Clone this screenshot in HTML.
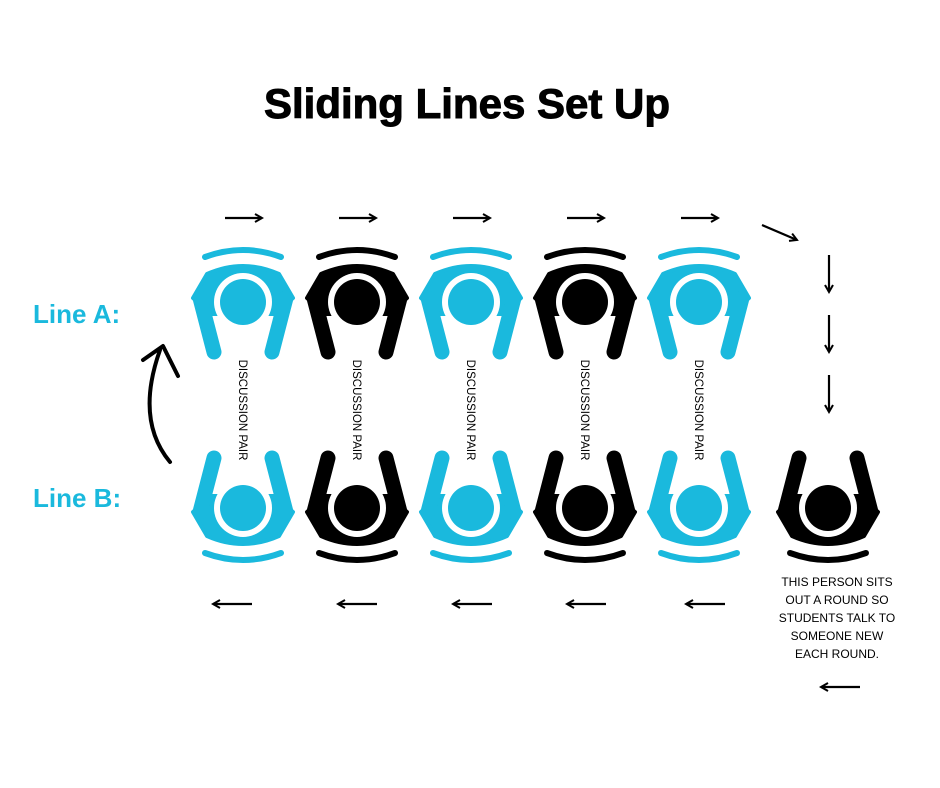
<!DOCTYPE html>
<html><head><meta charset="utf-8"><style>
body{margin:0;background:#fff;}
svg{display:block}
</style></head><body>
<svg width="940" height="788" viewBox="0 0 940 788" xmlns="http://www.w3.org/2000/svg">
<defs>
<g id="p">
  <path d="M-38,-45 Q0,-59 38,-45" fill="none" stroke="currentColor" stroke-width="6" stroke-linecap="round"/>
  <path d="M-50,-4 L-36,-28 Q0,-44 36,-28 L50,-4 L32,12 L-32,12 Z" fill="currentColor" stroke="currentColor" stroke-width="4" stroke-linejoin="round"/>
  <path d="M-29,50 L-43,-4 M29,50 L43,-4" fill="none" stroke="currentColor" stroke-width="15" stroke-linecap="round" stroke-linejoin="round"/>
  <circle cx="0" cy="0" r="29" fill="#fff"/>
  <circle cx="0" cy="0" r="23" fill="currentColor"/>
</g>
<marker id="ah" markerWidth="10" markerHeight="10" refX="8" refY="5" orient="auto" markerUnits="userSpaceOnUse">
  <path d="M1,1 L8,5 L1,9" fill="none" stroke="#000" stroke-width="2"/>
</marker>
</defs>
<text x="467" y="118" text-anchor="middle" font-family="Liberation Sans, sans-serif" font-weight="bold" font-size="42" fill="#000" stroke="#000" stroke-width="1">Sliding Lines Set Up</text>
<text x="33" y="323" font-family="Liberation Sans, sans-serif" font-weight="bold" font-size="26" fill="#1ab9dd">Line A:</text>
<text x="33" y="507" font-family="Liberation Sans, sans-serif" font-weight="bold" font-size="26" fill="#1ab9dd">Line B:</text>

<g color="#1ab9dd"><use href="#p" x="243" y="302"/></g>
<g color="#000"><use href="#p" x="357" y="302"/></g>
<g color="#1ab9dd"><use href="#p" x="471" y="302"/></g>
<g color="#000"><use href="#p" x="585" y="302"/></g>
<g color="#1ab9dd"><use href="#p" x="699" y="302"/></g>

<g color="#1ab9dd"><use href="#p" transform="translate(243,508) scale(1,-1)"/></g>
<g color="#000"><use href="#p" transform="translate(357,508) scale(1,-1)"/></g>
<g color="#1ab9dd"><use href="#p" transform="translate(471,508) scale(1,-1)"/></g>
<g color="#000"><use href="#p" transform="translate(585,508) scale(1,-1)"/></g>
<g color="#1ab9dd"><use href="#p" transform="translate(699,508) scale(1,-1)"/></g>
<g color="#000"><use href="#p" transform="translate(828,508) scale(1,-1)"/></g>

<g font-family="Liberation Sans, sans-serif" font-size="11.5" fill="#000" text-anchor="middle">
<text transform="translate(239,410) rotate(90)">DISCUSSION PAIR</text>
<text transform="translate(353,410) rotate(90)">DISCUSSION PAIR</text>
<text transform="translate(467,410) rotate(90)">DISCUSSION PAIR</text>
<text transform="translate(581,410) rotate(90)">DISCUSSION PAIR</text>
<text transform="translate(695,410) rotate(90)">DISCUSSION PAIR</text>
</g>

<g stroke="#000" stroke-width="2.2" fill="none" marker-end="url(#ah)">
<line x1="225" y1="218" x2="262" y2="218"/>
<line x1="339" y1="218" x2="376" y2="218"/>
<line x1="453" y1="218" x2="490" y2="218"/>
<line x1="567" y1="218" x2="604" y2="218"/>
<line x1="681" y1="218" x2="718" y2="218"/>
<line x1="762" y1="225" x2="797" y2="240"/>
<line x1="829" y1="255" x2="829" y2="292"/>
<line x1="829" y1="315" x2="829" y2="352"/>
<line x1="829" y1="375" x2="829" y2="412"/>
<line x1="252" y1="604" x2="213" y2="604"/>
<line x1="377" y1="604" x2="338" y2="604"/>
<line x1="492" y1="604" x2="453" y2="604"/>
<line x1="606" y1="604" x2="567" y2="604"/>
<line x1="725" y1="604" x2="686" y2="604"/>
<line x1="860" y1="687" x2="821" y2="687"/>
</g>
<path d="M170,462 Q135,420 160,350" fill="none" stroke="#000" stroke-width="4" stroke-linecap="round"/>
<path d="M143,360 L163,346 L178,376" fill="none" stroke="#000" stroke-width="4" stroke-linecap="round" stroke-linejoin="round"/>

<g font-family="Liberation Sans, sans-serif" font-size="12" fill="#000" text-anchor="middle">
<text x="837" y="586">THIS PERSON SITS</text>
<text x="837" y="604">OUT A ROUND SO</text>
<text x="837" y="622">STUDENTS TALK TO</text>
<text x="837" y="640">SOMEONE NEW</text>
<text x="837" y="658">EACH ROUND.</text>
</g>
</svg>
</body></html>
